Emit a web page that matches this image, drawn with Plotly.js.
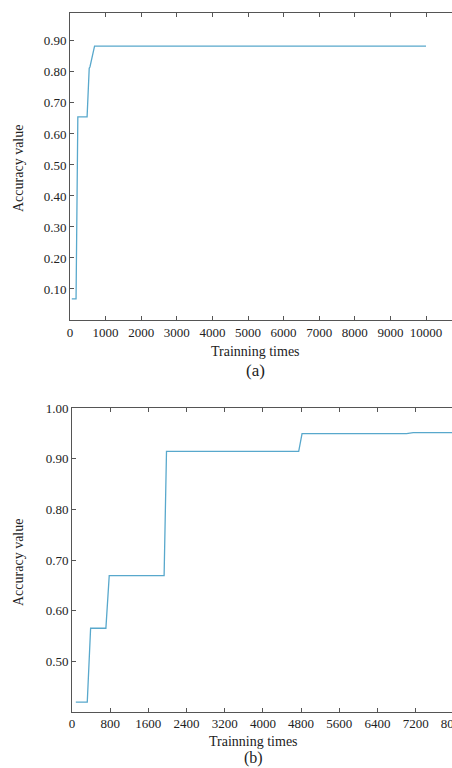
<!DOCTYPE html>
<html>
<head>
<meta charset="utf-8">
<script src="https://cdn.plot.ly/plotly-3.0.1.min.js"></script>
<style>
  html, body { margin: 0; padding: 0; overflow: hidden; background: #fff; width: 452px; height: 768px; }
  #chart { width: 500px; height: 768px; }
</style>
</head>
<body>
<div id="chart"></div>
<script>
// Panel (a)
var trainingTimesA = [50, 170, 220, 480, 540, 560, 690, 10000];
var accuracyA      = [0.068, 0.068, 0.655, 0.655, 0.812, 0.816, 0.883, 0.883];
var xTicksA = [0, 1000, 2000, 3000, 4000, 5000, 6000, 7000, 8000, 9000, 10000];
var yTicksA = [0.10, 0.20, 0.30, 0.40, 0.50, 0.60, 0.70, 0.80, 0.90];

// Panel (b)
var trainingTimesB = [80, 320, 390, 710, 780, 1930, 1980, 4750, 4820, 7010, 7150, 8000];
var accuracyB      = [0.419, 0.419, 0.565, 0.565, 0.669, 0.669, 0.915, 0.915, 0.950, 0.950, 0.952, 0.952];
var xTicksB = [0, 800, 1600, 2400, 3200, 4000, 4800, 5600, 6400, 7200, 8000, 8800];
var yTicksB = [0.50, 0.60, 0.70, 0.80, 0.90, 1.00];

var W = 500, H = 768;
var serif = "Liberation Serif, Times New Roman, serif";
var lineColor = "#58a8cc";
var axisColor = "#555";

function axisCommon() {
  return {
    showline: true, linecolor: axisColor, linewidth: 1,
    mirror: 'ticks', ticks: 'inside', ticklen: 4, tickcolor: axisColor,
    showgrid: false, zeroline: false,
    tickfont: {family: serif, size: 13, color: '#222'},
    fixedrange: true
  };
}

var traces = [
  {x: trainingTimesA, y: accuracyA, xaxis: 'x', yaxis: 'y', mode: 'lines',
   line: {color: lineColor, width: 1.3}, hoverinfo: 'skip'},
  {x: trainingTimesB, y: accuracyB, xaxis: 'x2', yaxis: 'y2', mode: 'lines',
   line: {color: lineColor, width: 1.3}, hoverinfo: 'skip'}
];

var xa = Object.assign(axisCommon(), {
  domain: [70 / W, 461.6 / W], range: [0, 11000],
  tickmode: 'array', tickvals: xTicksA, ticktext: xTicksA.map(String), anchor: 'y'
});
var ya = Object.assign(axisCommon(), {
  domain: [1 - 320 / H, 1 - 13 / H], range: [0, 0.99],
  tickmode: 'array', tickvals: yTicksA, ticktext: yTicksA.map(function(v){return v.toFixed(2);}), anchor: 'x'
});
var xb = Object.assign(axisCommon(), {
  domain: [72 / W, 492 / W], range: [0, 8800],
  tickmode: 'array', tickvals: xTicksB, ticktext: xTicksB.map(String), anchor: 'y2'
});
var yb = Object.assign(axisCommon(), {
  domain: [1 - 711.7 / H, 1 - 408.3 / H], range: [0.40, 1.00],
  tickmode: 'array', tickvals: yTicksB, ticktext: yTicksB.map(function(v){return v.toFixed(2);}), anchor: 'x2'
});

function ann(text, xpx, ypx, size, angle) {
  return {text: text, xref: 'paper', yref: 'paper', x: xpx / W, y: 1 - ypx / H,
          xanchor: 'center', yanchor: 'middle', showarrow: false,
          textangle: angle || 0, font: {family: serif, size: size, color: '#222'}};
}

var layout = {
  width: W, height: H,
  margin: {l: 0, r: 0, t: 0, b: 0},
  paper_bgcolor: '#fff', plot_bgcolor: '#fff',
  showlegend: false,
  xaxis: xa, yaxis: ya, xaxis2: xb, yaxis2: yb,
  annotations: [
    ann('Accuracy value', 18, 169, 14, -90),
    ann('Trainning times', 255, 351.5, 14),
    ann('(a)', 255, 370.5, 17),
    ann('Accuracy value', 18, 563, 14, -90),
    ann('Trainning times', 253, 741, 14),
    ann('(b)', 253, 757.5, 16)
  ]
};

Plotly.newPlot('chart', traces, layout, {staticPlot: true, displayModeBar: false});
</script>
</body>
</html>
